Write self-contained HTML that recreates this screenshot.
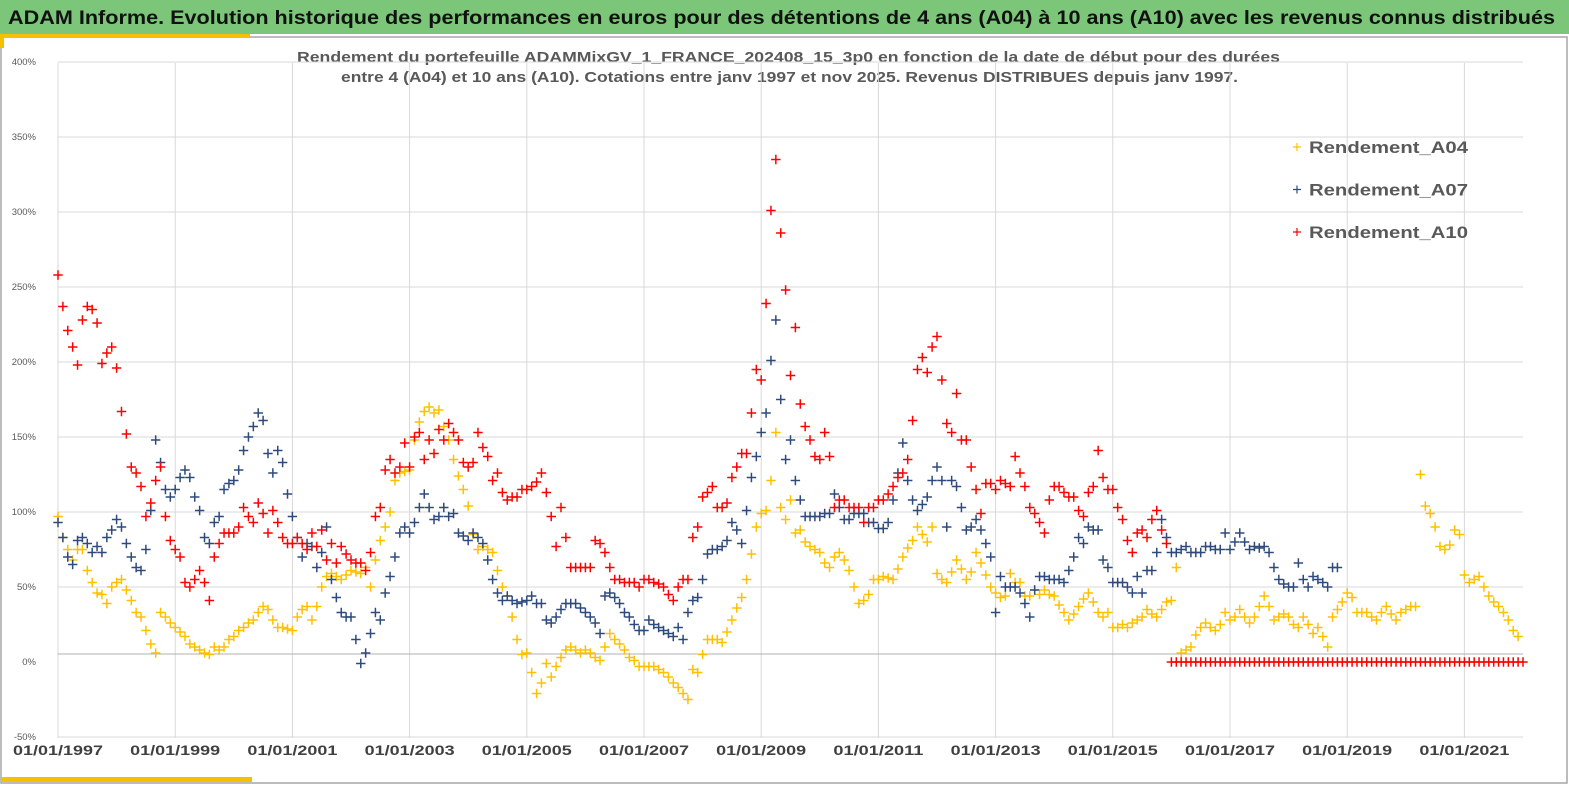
<!DOCTYPE html>
<html><head><meta charset="utf-8">
<style>
html,body{margin:0;padding:0;background:#fff;}
body{width:1569px;height:785px;position:relative;overflow:hidden;font-family:"Liberation Sans",sans-serif;}
#banner{position:absolute;left:0;top:0;width:1569px;height:34px;background:#7CC67A;}
</style></head>
<body>
<div id="banner"></div>
<svg id="chart" width="1569" height="785" style="position:absolute;left:0;top:0">
<text x="8" y="24" font-size="19" font-weight="bold" fill="#111" textLength="1547" lengthAdjust="spacingAndGlyphs">ADAM Informe. Evolution historique des performances en euros pour des détentions de 4 ans (A04) à 10 ans (A10) avec les revenus connus distribués</text>
<rect x="1" y="37" width="1566" height="746" fill="none" stroke="#a6a6a6" stroke-width="1.5"/>
<rect x="0" y="34" width="250" height="4" fill="#F5C000"/>
<rect x="0" y="34" width="4" height="14" fill="#F5C000"/>
<rect x="2" y="777" width="250" height="5" fill="#F5C000"/>
<text x="297" y="62" font-size="15" font-weight="bold" fill="#595959" textLength="983" lengthAdjust="spacingAndGlyphs">Rendement du portefeuille ADAMMixGV_1_FRANCE_202408_15_3p0  en fonction de la date de début pour des durées</text>
<text x="341" y="82" font-size="15" font-weight="bold" fill="#595959" textLength="897" lengthAdjust="spacingAndGlyphs">entre 4 (A04)  et 10 ans (A10). Cotations  entre janv 1997 et nov 2025. Revenus DISTRIBUES depuis janv 1997.</text>
<g id="grid"></g>
<g id="marks"></g>
<g id="legend"></g>
</svg>
<script>
const yTicks=[400,350,300,250,200,150,100,50,0,-50];
const xTickYears=[1997,1999,2001,2003,2005,2007,2009,2011,2013,2015,2017,2019,2021];
const startYear=1997;
const seriesNames=["Rendement_A04","Rendement_A07","Rendement_A10"];
const a04=[97,83,75,68,75,75,61,53,46,45,39,50,
53,55,48,41,33,30,21,12,6,33,30,26,
23,20,17,12,10,8,6,5,10,8,10,15,
17,21,23,26,28,33,37,35,28,23,23,22,
21,30,35,37,28,37,50,57,59,57,55,58,
61,60,59,63,50,68,81,90,100,121,126,127,
128,148,160,167,170,166,168,157,148,135,124,115,
104,85,75,77,75,73,61,50,44,30,15,5,
6,-7,-21,-14,-1,-10,-3,3,8,10,8,6,
8,6,3,1,10,19,15,12,8,3,1,-3,
-3,-3,-3,-5,-7,-10,-14,-17,-21,-25,-5,-7,
5,15,15,15,13,20,28,36,43,55,72,90,
99,101,121,153,103,95,108,86,88,80,77,75,
73,66,63,70,73,68,61,50,39,41,45,55,
55,57,56,55,62,70,76,81,90,85,80,90,
59,55,53,60,68,62,55,60,73,66,58,50,
46,43,44,59,53,53,44,44,48,45,48,45,
44,38,33,28,32,37,42,46,40,33,30,33,
23,23,25,23,26,28,30,35,32,30,35,40,
41,63,6,8,10,18,23,26,23,21,25,33,
28,30,35,30,26,30,37,44,37,28,30,32,
30,25,23,30,25,19,23,17,10,30,35,40,
46,43,33,33,33,30,28,33,37,32,28,33,
35,37,37,125,104,99,90,77,75,78,88,85,
58,53,55,57,50,44,40,37,33,28,21,17];
const a07=[93,83,70,65,81,83,79,73,77,73,83,88,
95,90,79,70,63,61,75,101,148,133,115,110,
115,123,128,123,110,101,83,79,93,97,115,119,
121,128,141,150,157,166,161,139,126,141,133,112,
97,83,70,79,77,63,73,90,55,43,33,30,
30,15,-1,6,19,33,28,46,57,70,86,90,
86,93,103,112,103,95,97,103,97,99,86,84,
81,86,83,79,68,55,46,41,44,41,39,40,
41,44,39,39,28,26,30,35,39,39,39,36,
33,30,26,19,44,46,43,39,33,30,25,21,
21,28,25,23,21,19,17,23,15,33,41,43,
55,72,75,75,77,81,93,88,79,101,123,137,
153,166,201,228,175,135,148,121,108,97,97,97,
97,99,99,112,103,95,95,99,99,99,93,93,
89,89,93,108,126,146,121,108,101,105,110,121,
130,121,90,121,117,103,88,90,95,88,79,70,
33,57,50,50,50,46,39,30,48,57,57,55,
55,55,53,61,70,83,79,90,88,88,68,63,
53,53,53,50,46,57,46,61,61,73,95,83,
73,73,75,77,73,73,73,77,77,75,75,86,
75,80,86,80,75,77,76,77,73,63,55,52,
50,50,66,55,50,57,55,53,50,63,63];
const a10=[258,237,221,210,198,228,237,235,226,199,206,210,
196,167,152,130,126,117,97,106,121,130,97,81,
75,70,53,50,55,61,53,41,70,79,86,86,
86,90,103,97,93,106,99,86,101,93,83,79,
79,83,79,75,86,77,88,68,79,66,77,72,
68,66,66,61,73,97,103,128,135,126,130,146,
130,150,153,135,148,139,155,148,159,153,148,133,
130,133,153,143,137,121,126,113,108,110,110,115,
115,117,120,126,113,97,77,103,83,63,63,63,
63,63,81,79,73,63,55,55,53,53,53,50,
55,55,53,52,50,45,41,50,55,55,83,90,
110,113,117,103,103,106,123,130,139,139,166,195,
188,239,301,335,286,248,191,223,172,157,148,137,
135,153,137,103,108,108,103,103,103,93,103,103,
108,108,112,117,123,126,135,161,195,203,193,210,
217,188,159,153,179,148,148,130,115,99,119,119,
115,121,119,117,137,126,117,103,99,93,86,108,
117,117,113,110,110,101,97,113,117,141,123,115,
115,103,95,81,73,86,88,83,95,101,88,79,
0,0,0,0,0,0,0,0,0,0,0,0,
0,0,0,0,0,0,0,0,0,0,0,0,
0,0,0,0,0,0,0,0,0,0,0,0,
0,0,0,0,0,0,0,0,0,0,0,0,
0,0,0,0,0,0,0,0,0,0,0,0,
0,0,0,0,0,0,0,0,0,0,0,0,
0];
const seriesColors=["#FFC000","#2E4A7D","#FF0000"];

const NS="http://www.w3.org/2000/svg";
const plotL=58,plotR=1523,plotT=63,plotB=738;
function xScale(t){return plotL+(t-1997)*58.6;}
function yScale(v){return 662-v*1.5;}
function mk(tag,attrs,parent){const e=document.createElementNS(NS,tag);for(const k in attrs)e.setAttribute(k,attrs[k]);parent.appendChild(e);return e;}
const grid=document.getElementById('grid');
yTicks.forEach(v=>{
  const y=yScale(v);
  if(v!==0){
    const l=mk('line',{x1:plotL,x2:plotR,y1:y,y2:y,stroke:'#d9d9d9','stroke-width':1},grid);
    
    
  }
  const t=mk('text',{x:36,y:y+3,'text-anchor':'end','font-size':9.5,fill:'#595959'},grid);
  t.textContent=v+'%';
  
  
});
xTickYears.forEach(yr=>{
  const x=xScale(yr);
  const l=mk('line',{x1:x,x2:x,y1:plotT,y2:plotB,stroke:'#d9d9d9','stroke-width':1},grid);
  
  
  const t=mk('text',{x:x-45,y:755,'font-size':14,'font-weight':'bold',fill:'#404040',textLength:90,lengthAdjust:'spacingAndGlyphs'},grid);
  t.textContent='01/01/'+yr;
  
  
});
const axis=mk('line',{x1:plotL,x2:plotR,y1:654,y2:654,stroke:'#b0b0b0','stroke-width':1},grid);



const marks=document.getElementById('marks');
function plus(g,x,y,s){
  mk('path',{d:`M${x-s} ${y}H${x+s}M${x} ${y-s}V${y+s}`},g);
}
[a04,a07,a10].forEach((arr,si)=>{
  const g=mk('g',{stroke:seriesColors[si],'stroke-width':1.5,fill:'none'},marks);
  
  
  arr.forEach((v,i)=>{
    plus(g,xScale(startYear+i/12),yScale(v),4.7);
  });
});

const legend=document.getElementById('legend');
seriesNames.forEach((n,i)=>{
  const y=147+i*42.5;
  const g=mk('g',{},legend);
  
  
  const pg=mk('g',{stroke:seriesColors[i],'stroke-width':1.2},g);
  plus(pg,1297,y,4);
  const t=mk('text',{x:1309,y:y+6,'font-size':17,'font-weight':'bold',fill:'#595959',textLength:159,lengthAdjust:'spacingAndGlyphs'},g);
  t.textContent=n;
});
</script>
</body></html>
